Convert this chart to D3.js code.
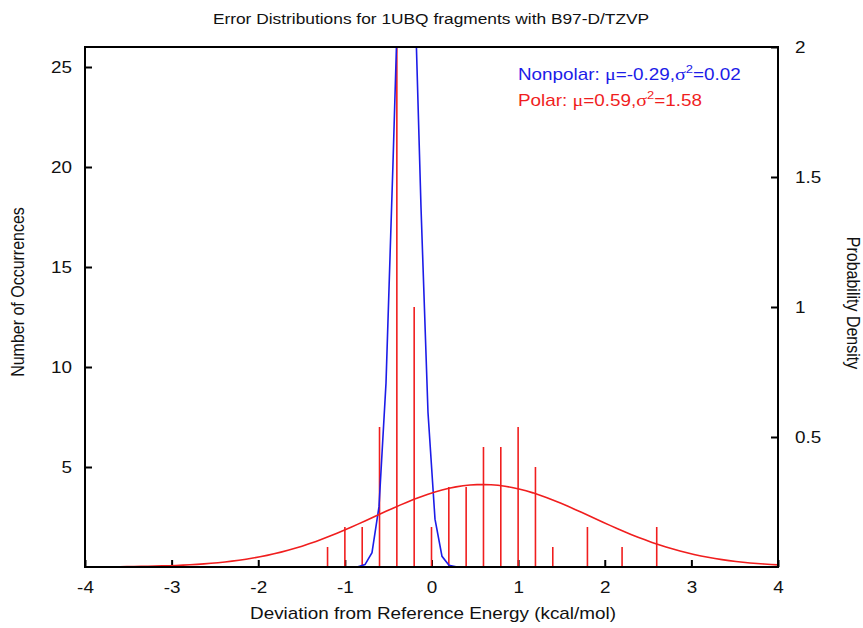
<!DOCTYPE html>
<html>
<head>
<meta charset="utf-8">
<script src="https://cdn.jsdelivr.net/npm/d3@7"></script>
<style>
  body { margin: 0; background: #fff; }
  svg text { font-family: "Liberation Sans", Arial, Helvetica, sans-serif; }
</style>
</head>
<body>
<div id="chart"></div>
<script>
// histogram of deviations (polar fragments), bin centres and counts
const binCentres = [-1.2, -1.0, -0.8, -0.6, -0.4, -0.2, 0.0, 0.2, 0.4, 0.6, 0.8, 1.0, 1.2, 1.4, 1.8, 2.2, 2.6];
const polarCounts = [1, 2, 2, 7, 28, 13, 2, 4, 4, 6, 6, 7, 5, 1, 2, 1, 2];

// fitted normal distributions (from the legend)
const seriesNames = ["Nonpolar", "Polar"];
const seriesMu = [-0.29, 0.59];
const seriesVar = [0.02, 1.58];
const seriesColors = ["#1c1ce8", "#f01e1e"];

const xTicks = [-4, -3, -2, -1, 0, 1, 2, 3, 4];
const leftTicks = [5, 10, 15, 20, 25];
const rightTicks = [0.5, 1, 1.5, 2];

const width = 863, height = 628;
const margin = {top: 47, right: 85, bottom: 61, left: 85};
const innerW = width - margin.left - margin.right;
const innerH = height - margin.top - margin.bottom;
const sx = 1.18; // the original picture is stretched sideways

const svg = d3.select("#chart").append("svg")
    .attr("width", width)
    .attr("height", height);

const g = svg.append("g")
    .attr("transform", `translate(${margin.left},${margin.top})`);

const x = d3.scaleLinear().domain([-4, 4]).range([0, innerW]);
const yL = d3.scaleLinear().domain([0, 26]).range([innerH, 0]);
const yR = d3.scaleLinear().domain([0, 2]).range([innerH, 0]);

g.append("clipPath").attr("id", "clip")
    .append("rect").attr("width", innerW).attr("height", innerH);

// axes, ticks inward
const ax = g.append("g").attr("transform", `translate(0,${innerH})`)
    .call(d3.axisBottom(x).tickValues(xTicks).tickSize(-7).tickPadding(15).tickFormat(d => String(d)));
const ayl = g.append("g")
    .call(d3.axisLeft(yL).tickValues(leftTicks).tickSize(-7).tickPadding(13));
const ayr = g.append("g").attr("transform", `translate(${innerW},0)`)
    .call(d3.axisRight(yR).tickValues(rightTicks).tickSize(-7).tickPadding(17).tickFormat(d => String(d)));

[ax, ayl, ayr].forEach(a => {
  a.select(".domain").remove();
  a.selectAll(".tick line").attr("stroke", "#000").attr("stroke-width", 2);
  a.selectAll(".tick text").attr("font-size", 16).attr("fill", "#111")
    .attr("x", function() { return +d3.select(this).attr("x") / sx || 0; })
    .attr("transform", `scale(${sx},1)`);
});

const plot = g.append("g").attr("clip-path", "url(#clip)");

// impulses
plot.selectAll("line.imp")
  .data(binCentres.map((c, i) => ({c, n: polarCounts[i]})))
  .join("line")
    .attr("class", "imp")
    .attr("x1", d => x(d.c)).attr("x2", d => x(d.c))
    .attr("y1", yL(0)).attr("y2", d => yL(d.n))
    .attr("stroke", seriesColors[1])
    .attr("stroke-width", 1.6);

// normal density curves, 100 samples like gnuplot
const samples = d3.range(100).map(i => -4 + i * 8 / 99);
const pdf = (v, mu, s2) => Math.exp(-((v - mu) ** 2) / (2 * s2)) / Math.sqrt(2 * Math.PI * s2);
const line = d3.line().x(d => x(d[0])).y(d => yR(d[1]));

seriesNames.forEach((name, k) => {
  plot.append("path")
    .datum(samples.map(v => [v, pdf(v, seriesMu[k], seriesVar[k])]))
    .attr("fill", "none")
    .attr("stroke", seriesColors[k])
    .attr("stroke-width", 1.6)
    .attr("d", line);
});

// frame
g.append("rect")
    .attr("width", innerW).attr("height", innerH)
    .attr("fill", "none").attr("stroke", "#000").attr("stroke-width", 2);

// legend
const leg = g.append("g").attr("transform", `translate(${518 - margin.left},0) scale(${sx},1)`);
seriesNames.forEach((name, k) => {
  const t = leg.append("text")
      .attr("y", 80 - margin.top + k * 26)
      .attr("font-size", 16)
      .attr("fill", seriesColors[k]);
  t.append("tspan").text(name + ": ");
  t.append("tspan").attr("font-family", "Liberation Serif, serif").attr("font-size", 17).text("μ");
  t.append("tspan").text("=" + seriesMu[k].toFixed(2) + ",");
  t.append("tspan").attr("font-family", "Liberation Serif, serif").attr("font-size", 17).text("σ");
  t.append("tspan").attr("font-size", 11).attr("dy", -7).text("2");
  t.append("tspan").attr("dy", 7).text("=" + seriesVar[k].toFixed(2));
});

// titles
svg.append("text")
    .attr("transform", `translate(431,24) scale(${sx},1)`)
    .attr("text-anchor", "middle")
    .attr("font-size", 14.7)
    .attr("fill", "#111")
    .text("Error Distributions for 1UBQ fragments with B97-D/TZVP");

svg.append("text")
    .attr("transform", `translate(433,619) scale(${sx},1)`)
    .attr("text-anchor", "middle")
    .attr("font-size", 16)
    .attr("fill", "#111")
    .text("Deviation from Reference Energy (kcal/mol)");

svg.append("text")
    .attr("transform", `translate(24,292) rotate(-90) scale(1,${sx})`)
    .attr("text-anchor", "middle")
    .attr("font-size", 16)
    .attr("fill", "#111")
    .text("Number of Occurrences");

svg.append("text")
    .attr("transform", `translate(847,303) rotate(90) scale(1,${sx})`)
    .attr("text-anchor", "middle")
    .attr("font-size", 16)
    .attr("fill", "#111")
    .text("Probability Density");
</script>
</body>
</html>
